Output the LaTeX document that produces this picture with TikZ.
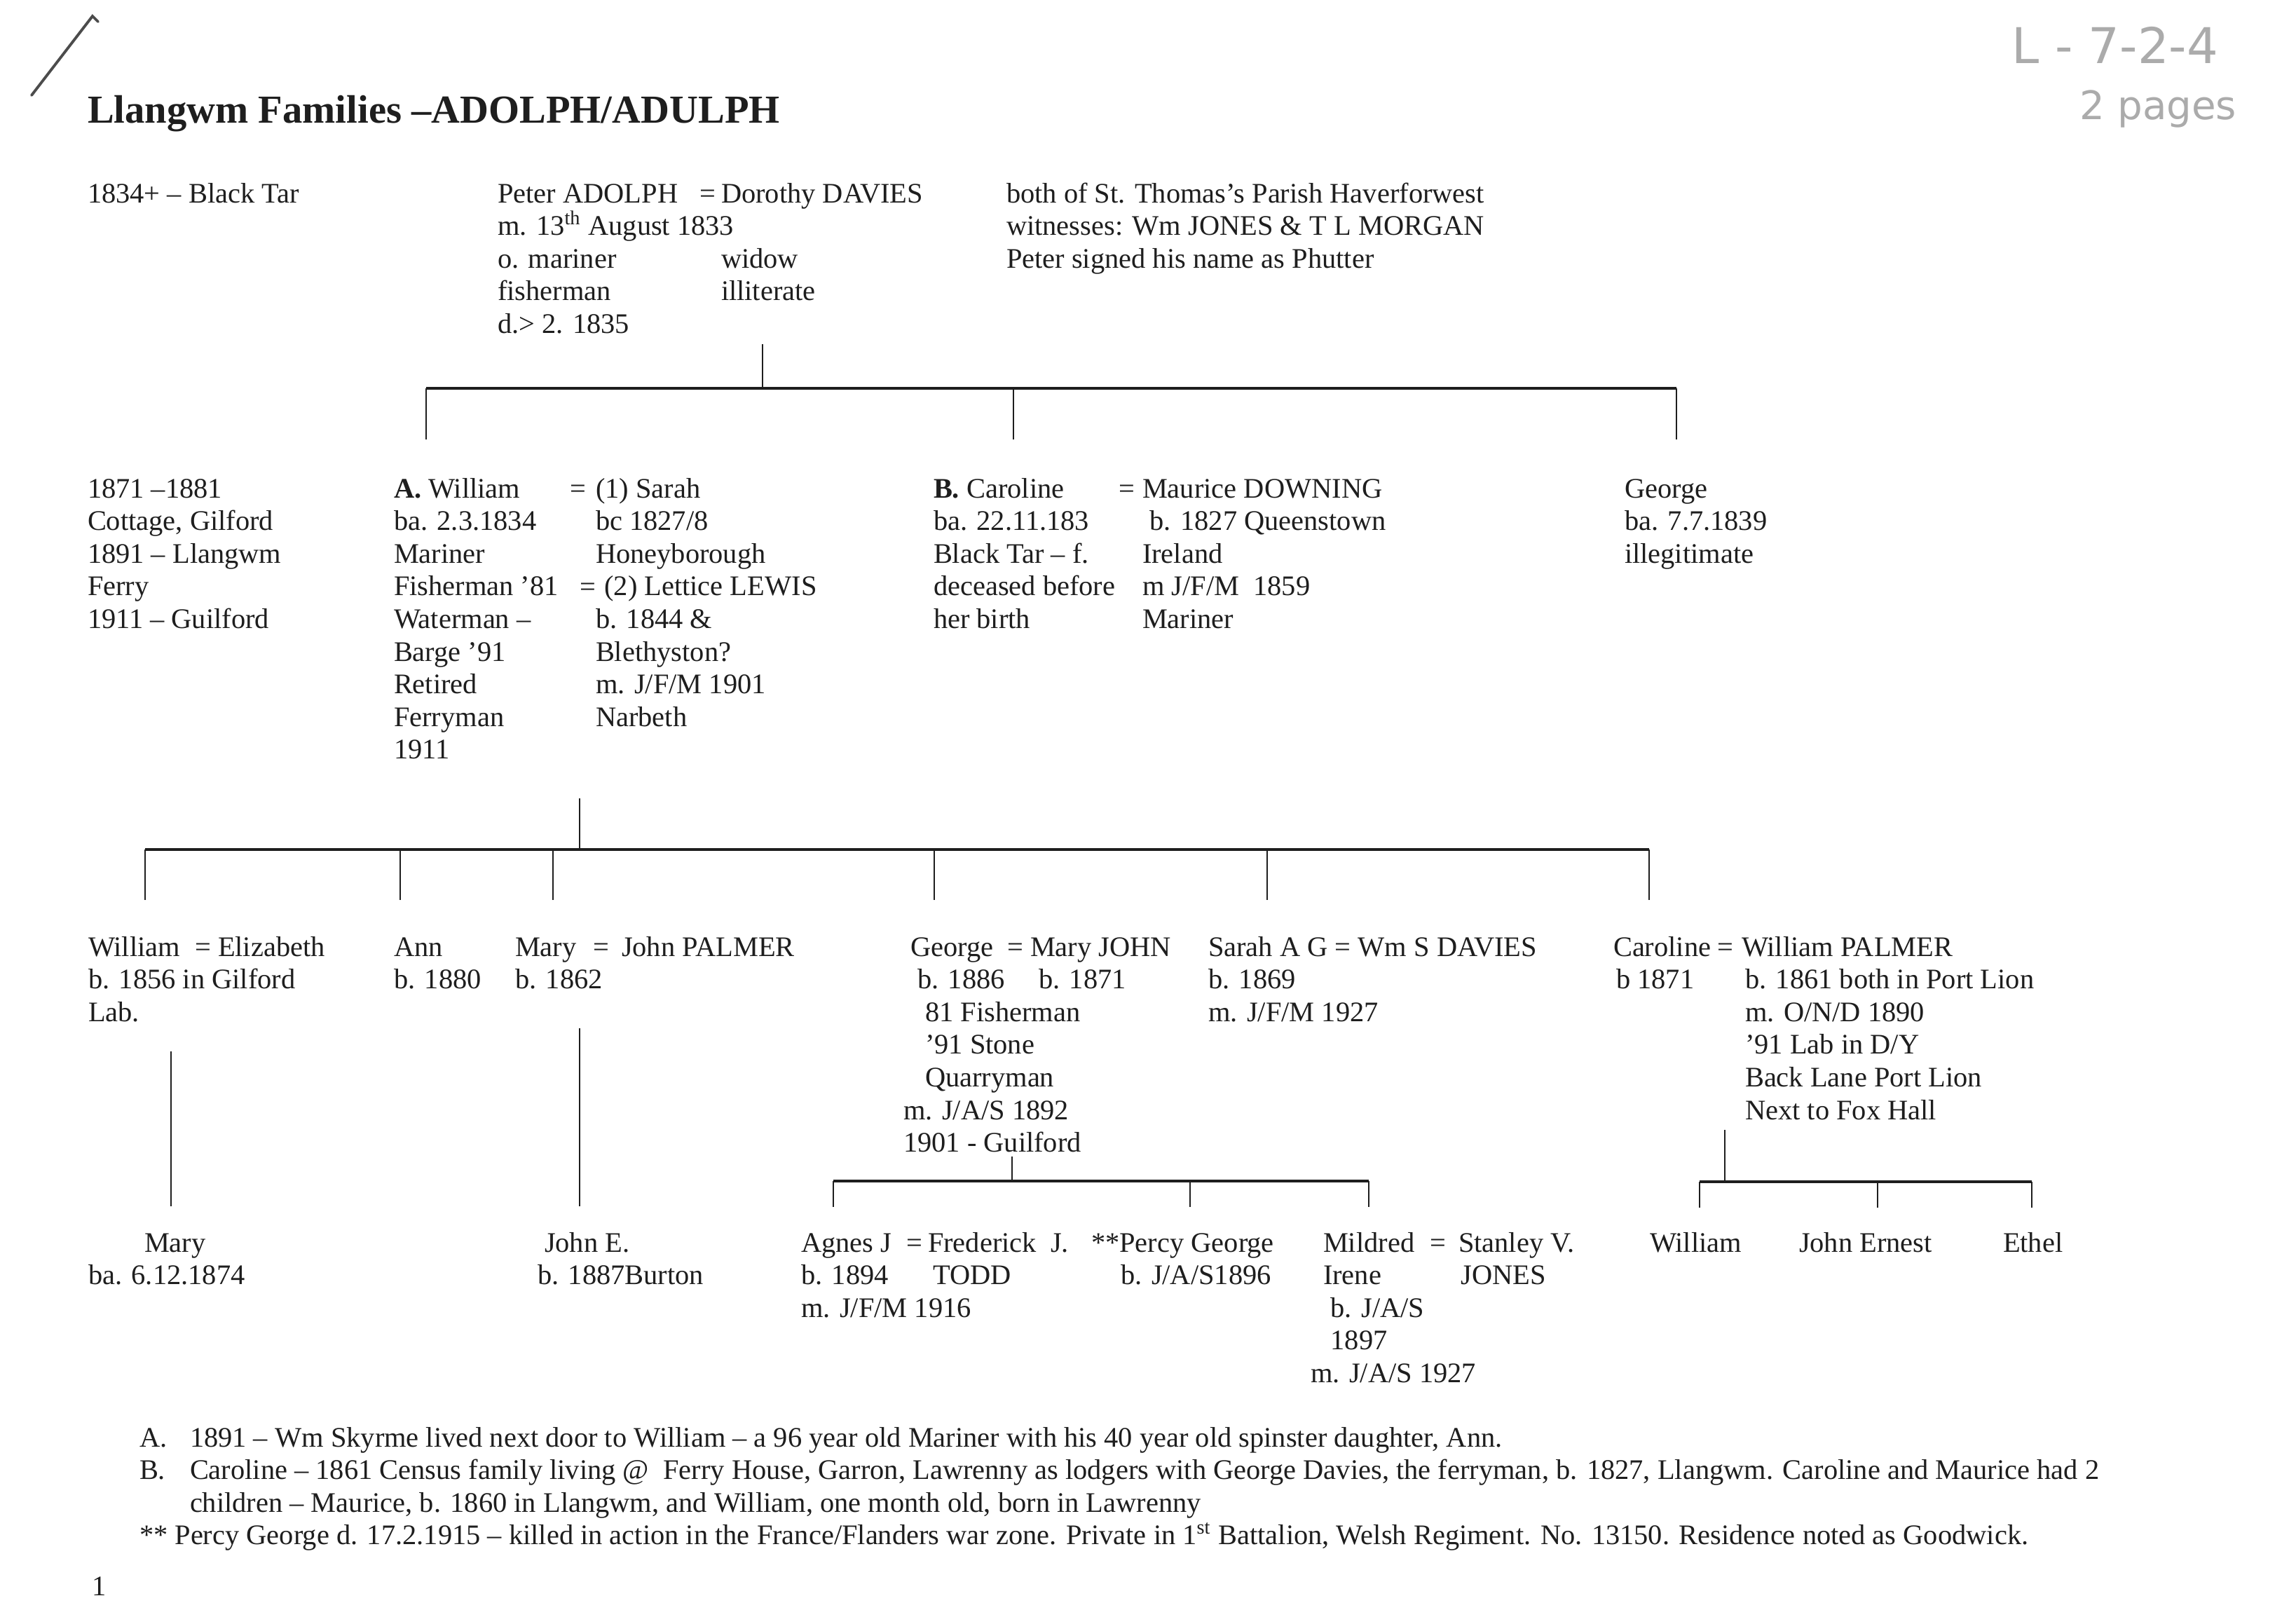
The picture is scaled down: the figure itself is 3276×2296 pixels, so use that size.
\documentclass[tikz,border=0pt]{standalone}
\usepackage{fontspec}
\setmainfont{Liberation Serif}
\newfontfamily\handfont{DejaVu Sans}
\definecolor{ink}{HTML}{1E1E1E}
\definecolor{pencil}{HTML}{ABABAB}
\newcommand\bodyfont{\fontsize{11.5}{13.25}\selectfont}
\newcommand\titlefont{\fontsize{16.1}{19}\selectfont\bfseries}
\begin{document}
\begin{tikzpicture}[x=0.01cm, y=-0.01cm,
  ln/.style={anchor=base west, inner sep=0pt, outer sep=0pt, font=\bodyfont, text=ink},
  col/.style={anchor=north west, inner sep=0pt, outer sep=0pt, align=left, font=\bodyfont, text=ink, yshift=9.275pt},
  bar/.style={draw=ink, line width=1.0pt},
  drop/.style={draw=ink, line width=0.65pt},
  hand/.style={anchor=base west, inner sep=0pt, text=pencil}]
\fill[white] (0,0) rectangle (3276,2296);
\useasboundingbox (0,0) rectangle (3276,2296);

% pencil marks
\coordinate (sl1) at (132,23);
\coordinate (sl2) at (45,136);
\coordinate (sl0) at (140,31);
\draw[draw=black!70, line width=1.1pt, line cap=round] (sl0) -- (sl1) -- (sl2);
\node[hand, font=\handfont\fontsize{20}{24}\selectfont] (ref) at (2870,90) {L - 7-2-4};
\node[hand, font=\handfont\fontsize{16}{20}\selectfont] (pages) at (2967,170) {2 pages};

% title
\node[ln, font=\titlefont] (title) at (125,175) {Llangwm Families –ADOLPH/ADULPH};

% generation I
\node[ln] (loc0) at (125,289) {1834+ – Black Tar};
\node[col] (peter) at (710,289) {\strut Peter ADOLPH\\ m. 13\smash{\textsuperscript{th}} August 1833\\ o. mariner\\ fisherman\\ d.> 2. 1835};
\node[ln] (eq0) at (998,289) {=};
\node[col] (dorothy) at (1029,289) {\strut Dorothy DAVIES\\ \mbox{}\\ widow\\ illiterate};
\node[col] (notes0) at (1436,289) {\strut both of St. Thomas’s Parish Haverforwest\\ witnesses: Wm JONES \& T L MORGAN\\ Peter signed his name as Phutter};

% generation II
\node[col] (loc1) at (125,710) {\strut 1871 –1881\\ Cottage, Gilford\\ 1891 – Llangwm\\ Ferry\\ 1911 – Guilford};
\node[col] (williamA) at (562,710) {\strut \textbf{A.} William\\ ba. 2.3.1834\\ Mariner\\ Fisherman ’81\\ Waterman –\\ Barge ’91\\ Retired\\ Ferryman\\ 1911};
\node[ln] (eqA1) at (813,710) {=};
\node[ln] (eqA2) at (827,850) {=};
\node[col] (wivesA) at (850,710) {\strut (1) Sarah\\ bc 1827/8\\ Honeyborough\\ \hspace{3.5pt}(2) Lettice LEWIS\\ b. 1844 \&\\ Blethyston?\\ m. J/F/M 1901\\ Narbeth};
\node[col] (carolineB) at (1332,710) {\strut \textbf{B.} Caroline\\ ba. 22.11.183\\ Black Tar – f.\\ deceased before\\ her birth};
\node[ln] (eqB) at (1596,710) {=};
\node[col] (maurice) at (1630,710) {\strut Maurice DOWNING\\ \hspace{3pt}b. 1827 Queenstown\\ Ireland\\ m J/F/M\ \ 1859\\ Mariner};
\node[col] (georgeI) at (2318,710) {\strut George\\ ba. 7.7.1839\\ illegitimate};

% generation III
\node[col] (williamII) at (126,1364) {\strut William\\ b. 1856 in Gilford\\ Lab.};
\node[ln] (eqW) at (278,1364) {=};
\node[ln] (elizabeth) at (311,1364) {Elizabeth};
\node[col] (ann) at (562,1364) {\strut Ann\\ b. 1880};
\node[col] (mary) at (735,1364) {\strut Mary\\ b. 1862};
\node[ln] (eqM) at (846,1364) {=};
\node[ln] (johnP) at (887,1364) {John PALMER};
\node[ln] (georgeII) at (1299,1364) {George};
\node[ln] (eqG) at (1437,1364) {=};
\node[ln] (maryJ) at (1470,1364) {Mary JOHN};
\node[ln] (georgeB) at (1309,1410.6) {b. 1886};
\node[ln] (maryJB) at (1482,1410.6) {b. 1871};
\node[col] (georgeOcc) at (1320,1457.2) {\strut 81 Fisherman\\ ’91 Stone\\ Quarryman};
\node[col] (georgeM) at (1289,1597) {\strut m. J/A/S 1892\\ 1901 - Guilford};
\node[col] (sarahII) at (1724,1364) {\strut Sarah A G = Wm S DAVIES\\ b. 1869\\ m. J/F/M 1927};
\node[ln] (carolineII) at (2302,1364) {Caroline};
\node[ln] (eqC) at (2450,1364) {=};
\node[ln] (williamP) at (2485,1364) {William PALMER};
\node[ln] (carolineB2) at (2306,1410.6) {b 1871};
\node[col] (palmerNotes) at (2490,1410.6) {\strut b. 1861 both in Port Lion\\ m. O/N/D 1890\\ ’91 Lab in D/Y\\ Back Lane Port Lion\\ Next to Fox Hall};

% generation IV
\node[ln] (maryIII) at (206,1786) {Mary};
\node[ln] (maryIIIb) at (126,1832.6) {ba. 6.12.1874};
\node[ln] (johnE) at (777,1786) {John E.};
\node[ln] (johnEb) at (767,1832.6) {b. 1887Burton};
\node[col] (agnes) at (1143,1786) {\strut Agnes J\\ b. 1894\\ m. J/F/M 1916};
\node[ln] (eqAg) at (1293,1786) {=};
\node[col] (frederick) at (1324,1786) {\strut Frederick\ \ J.\\ \hspace{2pt}TODD};
\node[col] (percy) at (1557,1786) {\strut **Percy George\\ \hspace{12pt}b. J/A/S1896};
\node[col] (mildred) at (1888,1786) {\strut Mildred\\ Irene\\ \hspace{3pt}b. J/A/S\\ \hspace{3pt}1897};
\node[ln] (mildredM) at (1870,1972.4) {m. J/A/S 1927};
\node[ln] (eqMi) at (2040,1786) {=};
\node[col] (stanley) at (2081,1786) {\strut Stanley V.\\ \hspace{1pt}JONES};
\node[ln] (williamIII) at (2354,1786) {William};
\node[ln] (johnErnest) at (2567,1786) {John Ernest};
\node[ln] (ethel) at (2858,1786) {Ethel};

% footnotes
\node[col] (fnlab) at (199,2064) {\strut A.\\ B.};
\node[col] (fntext) at (271,2064) {\strut 1891 – Wm Skyrme lived next door to William – a 96 year old Mariner with his 40 year old spinster daughter, Ann.\\ Caroline – 1861 Census family living @ \ Ferry House, Garron, Lawrenny as lodgers with George Davies, the ferryman, b. 1827, Llangwm. Caroline and Maurice had 2\\ children – Maurice, b. 1860 in Llangwm, and William, one month old, born in Lawrenny};
\node[ln] (fnstar) at (199,2203.8) {** Percy George d. 17.2.1915 – killed in action in the France/Flanders war zone. Private in 1\smash{\textsuperscript{st}} Battalion, Welsh Regiment. No. 13150. Residence noted as Goodwick.};
\node[ln] (pageno) at (131,2276) {1};

% connectors: generation I -> II
\coordinate (g1s) at (1088,491);
\coordinate (g1j) at (1088,554);
\coordinate (g1l) at (608,554);
\coordinate (g1m) at (1446,554);
\coordinate (g1r) at (2392,554);
\coordinate (g1ld) at (608,627);
\coordinate (g1md) at (1446,627);
\coordinate (g1rd) at (2392,627);
\draw[drop] (g1s) -- (g1j);
\draw[bar] (g1l) -- (g1r);
\draw[drop] (g1l) -- (g1ld);
\draw[drop] (g1m) -- (g1md);
\draw[drop] (g1r) -- (g1rd);

% generation II -> III
\coordinate (g2s) at (827,1139);
\coordinate (g2j) at (827,1212);
\coordinate (g2a) at (207,1212);
\coordinate (g2b) at (571,1212);
\coordinate (g2c) at (789,1212);
\coordinate (g2d) at (1333,1212);
\coordinate (g2e) at (1808,1212);
\coordinate (g2f) at (2353,1212);
\coordinate (g2ad) at (207,1284);
\coordinate (g2bd) at (571,1284);
\coordinate (g2cd) at (789,1284);
\coordinate (g2dd) at (1333,1284);
\coordinate (g2ed) at (1808,1284);
\coordinate (g2fd) at (2353,1284);
\draw[drop] (g2s) -- (g2j);
\draw[bar] (g2a) -- (g2f);
\draw[drop] (g2a) -- (g2ad);
\draw[drop] (g2b) -- (g2bd);
\draw[drop] (g2c) -- (g2cd);
\draw[drop] (g2d) -- (g2dd);
\draw[drop] (g2e) -- (g2ed);
\draw[drop] (g2f) -- (g2fd);

% generation III -> IV
\coordinate (w3s) at (244,1500);
\coordinate (w3e) at (244,1721);
\draw[drop] (w3s) -- (w3e);
\coordinate (m3s) at (827,1467);
\coordinate (m3e) at (827,1721);
\draw[drop] (m3s) -- (m3e);

\coordinate (gs) at (1444,1650);
\coordinate (gj) at (1444,1685);
\coordinate (ga) at (1189,1685);
\coordinate (gb) at (1698,1685);
\coordinate (gc) at (1953,1685);
\coordinate (gad) at (1189,1722);
\coordinate (gbd) at (1698,1722);
\coordinate (gcd) at (1953,1722);
\draw[drop] (gs) -- (gj);
\draw[bar] (ga) -- (gc);
\draw[drop] (ga) -- (gad);
\draw[drop] (gb) -- (gbd);
\draw[drop] (gc) -- (gcd);

\coordinate (cs) at (2461,1612);
\coordinate (cj) at (2461,1686);
\coordinate (ca) at (2425,1686);
\coordinate (cb) at (2679,1686);
\coordinate (cc) at (2899,1686);
\coordinate (cad) at (2425,1723);
\coordinate (cbd) at (2679,1723);
\coordinate (ccd) at (2899,1723);
\draw[drop] (cs) -- (cj);
\draw[bar] (ca) -- (cc);
\draw[drop] (ca) -- (cad);
\draw[drop] (cb) -- (cbd);
\draw[drop] (cc) -- (ccd);
\end{tikzpicture}
\end{document}
